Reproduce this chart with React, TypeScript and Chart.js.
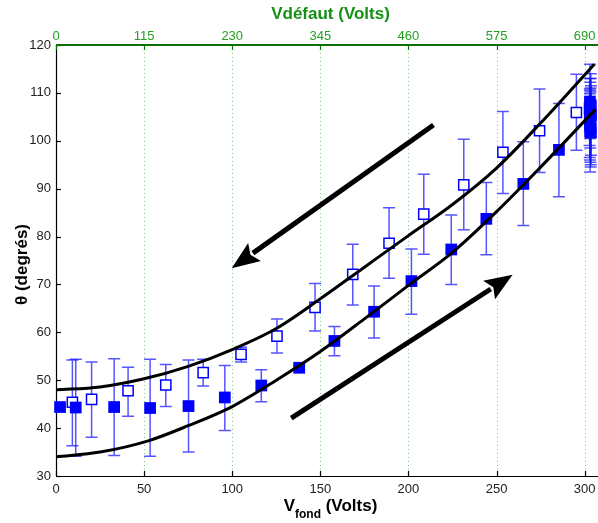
import React, { useEffect, useRef } from 'react';
import { Chart, registerables } from 'chart.js';
Chart.register(...registerables);

// Axis ticks
const bottomTicks = [0, 50, 100, 150, 200, 250, 300];
const topTicks = [0, 115, 230, 345, 460, 575, 690];
const yTicks = [30, 40, 50, 60, 70, 80, 90, 100, 110, 120];

// Filled squares (increasing voltage)
const filledX = [2.3, 11.2, 33, 53.4, 75.2, 95.8, 116.5, 138, 158, 180.5, 201.7, 224.3, 244.2, 265.2, 285.4, 303.0, 303.5, 302.8, 303.2, 303.6, 302.9, 303.3, 303.0, 303.4, 303.1, 303.5];
const filledY = [44.4, 44.3, 44.4, 44.2, 44.6, 46.4, 48.9, 52.6, 58.2, 64.3, 70.7, 77.3, 83.7, 91.0, 98.1, 108.2, 107.4, 106.8, 106.0, 105.3, 104.6, 104.0, 103.3, 102.6, 102.0, 101.7];
const filledHi = [44.4, 54.4, 54.5, 54.4, 54.2, 53.1, 52.2, 53.0, 61.2, 69.7, 77.4, 84.5, 91.3, 99.8, 107.8, 116.0, 114.0, 113.0, 112.2, 111.5, 110.8, 110.2, 109.8, 111.0, 110.5, 113.0];
const filledLo = [44.4, 34.1, 34.3, 34.1, 35.0, 39.5, 45.5, 52.2, 55.1, 58.8, 63.8, 70.0, 76.2, 82.3, 88.3, 100.5, 100.8, 99.0, 98.5, 97.0, 96.5, 95.5, 96.0, 94.5, 93.5, 95.0];

// Open squares (decreasing voltage)
const openX = [9.3, 20.2, 40.9, 62.3, 83.5, 105, 125.4, 147, 168.4, 189, 208.7, 231.4, 253.6, 274.4, 295.3];
const openY = [45.4, 46.0, 47.8, 49.0, 51.6, 55.4, 59.2, 65.2, 72.1, 78.6, 84.7, 90.8, 97.6, 102.1, 105.9];
const openHi = [54.2, 53.8, 52.7, 53.3, 54.4, 56.9, 62.8, 70.2, 78.4, 86.0, 93.0, 100.3, 106.1, 110.8, 113.9];
const openLo = [36.3, 38.1, 42.5, 44.5, 48.8, 53.8, 55.7, 60.3, 65.7, 71.3, 76.3, 81.4, 89.0, 93.4, 98.0];

// Fitted curves
const upperX = [0, 25, 50, 75, 100, 125, 150, 175, 200, 225, 250, 275, 305.5];
const upperY = [48.0, 48.6, 50.3, 52.9, 56.4, 60.8, 67.0, 73.6, 80.2, 86.7, 94.3, 103.7, 116.0];
const lowerX = [0, 25, 52.8, 75, 100, 125, 150, 175, 200, 225, 250, 275, 306];
const lowerY = [34.0, 35.0, 37.4, 40.5, 44.5, 50.0, 56.0, 62.8, 69.8, 76.7, 85.2, 94.5, 106.5];

// Arrows (data coordinates: from -> to)
const arrowFromX = [133.5, 214.2];
const arrowFromY = [42.1, 103.3];
const arrowToX = [259.1, 99.7];
const arrowToY = [72.0, 73.4];

const FONT = '"Liberation Sans", Arial, Helvetica, sans-serif';
const BLUE = '#0000ff';
const GREEN_T = '#149014';
const GREEN_L = '#22a022';

const pts = (xs: number[], ys: number[]) => xs.map((x, i) => ({ x, y: ys[i] }));

const customPlugin = {
  id: 'customDraw',
  beforeDatasetsDraw(chart: any) {
    const { ctx, chartArea: a, scales } = chart;
    const x = scales.x, y = scales.y, xt = scales.xTop;
    ctx.save();
    // dotted green grid
    ctx.strokeStyle = '#7ccc7c';
    ctx.lineWidth = 1;
    ctx.setLineDash([1, 3]);
    topTicks.forEach((v) => {
      if (v === 0) return;
      const px = Math.round(xt.getPixelForValue(v)) + 0.5;
      ctx.beginPath();
      ctx.moveTo(px, a.top);
      ctx.lineTo(px, a.bottom);
      ctx.stroke();
    });
    ctx.setLineDash([]);
    // axes
    ctx.strokeStyle = '#000';
    ctx.lineWidth = 1.2;
    ctx.beginPath();
    ctx.moveTo(a.left + 0.5, a.top);
    ctx.lineTo(a.left + 0.5, a.bottom);
    ctx.moveTo(a.left, a.bottom + 0.5);
    ctx.lineTo(a.right + 1, a.bottom + 0.5);
    ctx.stroke();
    // ticks inward
    bottomTicks.forEach((v) => {
      const px = Math.round(x.getPixelForValue(v)) + 0.5;
      ctx.beginPath();
      ctx.moveTo(px, a.bottom);
      ctx.lineTo(px, a.bottom - 5);
      ctx.stroke();
    });
    yTicks.forEach((v) => {
      const py = Math.round(y.getPixelForValue(v)) + 0.5;
      ctx.beginPath();
      ctx.moveTo(a.left, py);
      ctx.lineTo(a.left + 5, py);
      ctx.stroke();
    });
    // top axis
    ctx.strokeStyle = '#0a6e0a';
    ctx.lineWidth = 2;
    ctx.beginPath();
    ctx.moveTo(a.left, a.top);
    ctx.lineTo(a.right + 1, a.top);
    ctx.stroke();
    ctx.lineWidth = 1.2;
    topTicks.forEach((v) => {
      const px = Math.round(xt.getPixelForValue(v)) + 0.5;
      ctx.beginPath();
      ctx.moveTo(px, a.top);
      ctx.lineTo(px, a.top + 5);
      ctx.stroke();
    });
    // tick labels
    ctx.font = `13px ${FONT}`;
    ctx.textBaseline = 'middle';
    ctx.textAlign = 'center';
    ctx.fillStyle = '#222';
    bottomTicks.forEach((v) => {
      ctx.fillText(String(v), x.getPixelForValue(v), a.bottom + 13);
    });
    ctx.fillStyle = GREEN_L;
    topTicks.forEach((v) => {
      ctx.fillText(String(v), xt.getPixelForValue(v), a.top - 9);
    });
    ctx.fillStyle = '#222';
    ctx.textAlign = 'right';
    yTicks.forEach((v) => {
      ctx.fillText(String(v), a.left - 5, y.getPixelForValue(v));
    });
    // error bars
    ctx.strokeStyle = 'rgba(20,20,255,0.72)';
    ctx.lineWidth = 1.5;
    const bars = (xs: number[], hi: number[], lo: number[]) => {
      xs.forEach((xv, i) => {
        if (hi[i] === lo[i]) return;
        const px = x.getPixelForValue(xv);
        const p1 = y.getPixelForValue(hi[i]);
        const p2 = y.getPixelForValue(lo[i]);
        ctx.beginPath();
        ctx.moveTo(px, p1);
        ctx.lineTo(px, p2);
        ctx.moveTo(px - 6, p1);
        ctx.lineTo(px + 6, p1);
        ctx.moveTo(px - 6, p2);
        ctx.lineTo(px + 6, p2);
        ctx.stroke();
      });
    };
    bars(filledX, filledHi, filledLo);
    bars(openX, openHi, openLo);
    ctx.restore();
  },
  afterDatasetsDraw(chart: any) {
    const { ctx, scales } = chart;
    const x = scales.x, y = scales.y;
    ctx.save();
    ctx.fillStyle = '#000';
    ctx.strokeStyle = '#000';
    arrowFromX.forEach((_, i) => {
      const x0 = x.getPixelForValue(arrowFromX[i]);
      const y0 = y.getPixelForValue(arrowFromY[i]);
      const x1 = x.getPixelForValue(arrowToX[i]);
      const y1 = y.getPixelForValue(arrowToY[i]);
      const ang = Math.atan2(y1 - y0, x1 - x0);
      const L = 28, W = 11;
      const c = Math.cos(ang), s = Math.sin(ang);
      const bx = x1 - L * c, by = y1 - L * s;
      ctx.lineWidth = 5;
      ctx.lineCap = 'butt';
      ctx.beginPath();
      ctx.moveTo(x0, y0);
      ctx.lineTo(bx + 2 * c, by + 2 * s);
      ctx.stroke();
      ctx.beginPath();
      ctx.moveTo(x1, y1);
      ctx.lineTo(bx + W * s, by - W * c);
      ctx.lineTo(bx + 5 * c, by + 5 * s);
      ctx.lineTo(bx - W * s, by + W * c);
      ctx.closePath();
      ctx.fill();
    });
    ctx.restore();
  },
  afterDraw(chart: any) {
    const { ctx, chartArea: a } = chart;
    ctx.save();
    // top title
    ctx.fillStyle = GREEN_T;
    ctx.font = `bold 17px ${FONT}`;
    ctx.textAlign = 'center';
    ctx.textBaseline = 'middle';
    ctx.fillText('Vdéfaut (Volts)', (a.left + a.right) / 2 + 4, 14);
    // bottom title with subscript
    ctx.fillStyle = '#000';
    ctx.textAlign = 'left';
    ctx.textBaseline = 'alphabetic';
    ctx.font = `bold 17px ${FONT}`;
    const v = 'V';
    const sub = 'fond';
    const rest = ' (Volts)';
    const wV = ctx.measureText(v).width;
    const wR = ctx.measureText(rest).width;
    ctx.font = `bold 12px ${FONT}`;
    const wS = ctx.measureText(sub).width;
    const total = wV + wS + wR;
    let sx = (a.left + a.right) / 2 + 4 - total / 2;
    ctx.font = `bold 17px ${FONT}`;
    ctx.fillText(v, sx, 511);
    sx += wV;
    ctx.font = `bold 12px ${FONT}`;
    ctx.fillText(sub, sx, 518);
    sx += wS;
    ctx.font = `bold 17px ${FONT}`;
    ctx.fillText(rest, sx, 511);
    // y title
    ctx.translate(22, (a.top + a.bottom) / 2 + 4);
    ctx.rotate(-Math.PI / 2);
    ctx.textAlign = 'center';
    ctx.textBaseline = 'middle';
    ctx.font = `bold 17px ${FONT}`;
    ctx.fillText('θ (degrés)', 0, 0);
    ctx.restore();
  },
};

export default function App() {
  const ref = useRef<HTMLCanvasElement | null>(null);
  useEffect(() => {
    document.body.style.margin = '0';
    const canvas = ref.current;
    if (!canvas) return;
    const chart = new Chart(canvas, {
      type: 'scatter',
      data: {
        datasets: [
          {
            label: 'upper',
            data: pts(upperX, upperY),
            showLine: true,
            borderColor: '#000',
            borderWidth: 3,
            pointRadius: 0,
            cubicInterpolationMode: 'monotone',
            fill: false,
            order: 0,
            clip: false,
            xAxisID: 'x',
            yAxisID: 'y',
          } as any,
          {
            label: 'lower',
            data: pts(lowerX, lowerY),
            showLine: true,
            borderColor: '#000',
            borderWidth: 3,
            pointRadius: 0,
            cubicInterpolationMode: 'monotone',
            fill: false,
            order: 0,
            clip: false,
            xAxisID: 'x',
            yAxisID: 'y',
          } as any,
          {
            label: 'open',
            data: pts(openX, openY),
            pointStyle: 'rect',
            pointRadius: 7.2,
            borderColor: BLUE,
            borderWidth: 1.5,
            backgroundColor: '#ffffff',
            order: 2,
            clip: false,
            xAxisID: 'x',
            yAxisID: 'y',
          } as any,
          {
            label: 'filled',
            data: pts(filledX, filledY),
            pointStyle: 'rect',
            pointRadius: 8.3,
            borderColor: BLUE,
            borderWidth: 0,
            backgroundColor: BLUE,
            order: 1,
            clip: false,
            xAxisID: 'x',
            yAxisID: 'y',
          } as any,
        ],
      },
      options: {
        animation: false,
        responsive: true,
        maintainAspectRatio: false,
        layout: { autoPadding: false, padding: { left: 0, right: 1, top: 0, bottom: 0 } },
        plugins: { legend: { display: false }, tooltip: { enabled: false } },
        scales: {
          x: {
            type: 'linear',
            position: 'bottom',
            min: 0,
            max: 307,
            afterBuildTicks: (s: any) => { s.ticks = bottomTicks.map((v) => ({ value: v })); },
            afterFit: (s: any) => { s.height = 47; },
            ticks: { display: false },
            grid: { display: false, drawTicks: false },
            border: { display: false },
          },
          xTop: {
            type: 'linear',
            position: 'top',
            min: 0,
            max: 307 * 2.3,
            afterBuildTicks: (s: any) => { s.ticks = topTicks.map((v) => ({ value: v })); },
            afterFit: (s: any) => { s.height = 45; },
            ticks: { display: false },
            grid: { display: false, drawTicks: false },
            border: { display: false },
          },
          y: {
            type: 'linear',
            position: 'left',
            min: 30,
            max: 120,
            afterBuildTicks: (s: any) => { s.ticks = yTicks.map((v) => ({ value: v })); },
            afterFit: (s: any) => { s.width = 56; },
            ticks: { display: false },
            grid: { display: false, drawTicks: false },
            border: { display: false },
          },
        },
      } as any,
      plugins: [customPlugin],
    });
    return () => chart.destroy();
  }, []);
  return (
    <div style={{ position: 'relative', width: 598, height: 523, background: '#fff' }}>
      <canvas ref={ref} />
    </div>
  );
}
